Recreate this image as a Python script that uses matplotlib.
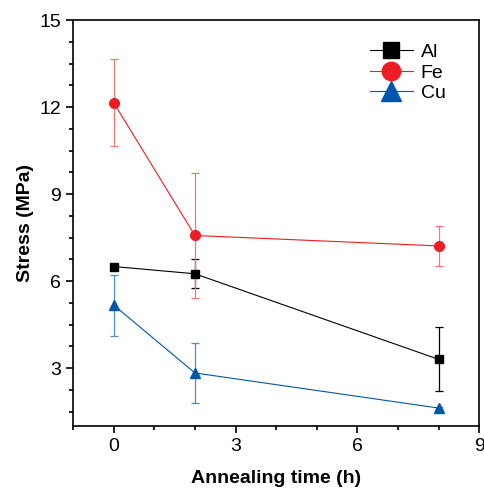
import matplotlib
matplotlib.use("Agg")
import matplotlib.pyplot as plt
from matplotlib.ticker import MultipleLocator

plt.rcParams["font.family"] = ["Liberation Sans", "DejaVu Sans"]

# annealing time (h)
time_h = [0, 2, 8]

# stress (MPa) and error bars for each metal
al_stress = [6.5, 6.25, 3.3]
al_err = [0.0, 0.5, 1.1]
fe_stress = [12.15, 7.57, 7.21]
fe_err = [1.5, 2.15, 0.68]
cu_stress = [5.17, 2.83, 1.62]
cu_err = [1.05, 1.05, 0.05]

series = [
    ("Al", al_stress, al_err, "s", "black", "black", 6),
    ("Fe", fe_stress, fe_err, "o", "#ee1c25", "#f07b72", 7),
    ("Cu", cu_stress, cu_err, "^", "#0056a8", "#4a8fd0", 7.5),
]

fig = plt.figure(figsize=(4.84, 4.88), dpi=100)
ax = fig.add_axes([0.151, 0.127, 0.839, 0.832])

for name, ys, errs, marker, color, ecolor, ms in series:
    ax.errorbar(time_h, ys, yerr=errs, fmt="none", ecolor=ecolor,
                elinewidth=0.9, capsize=3, capthick=0.9, zorder=2)
    ax.plot(time_h, ys, marker=marker, color=color, markersize=ms,
            linewidth=0.8, label=name, zorder=3)

ax.set_xlim(-1, 9)
ax.set_ylim(1, 15)
ax.xaxis.set_major_locator(MultipleLocator(3))
ax.xaxis.set_minor_locator(MultipleLocator(1))
ax.yaxis.set_major_locator(MultipleLocator(3))
ax.yaxis.set_minor_locator(MultipleLocator(0.75))

ax.tick_params(which="both", direction="out", top=False, right=False,
               labelsize=14, width=1.2)
ax.tick_params(which="major", length=5)
ax.tick_params(which="minor", length=3)
for sp in ax.spines.values():
    sp.set_linewidth(1.2)

ax.set_xlabel("Annealing time (h)", fontsize=14, fontweight="bold", labelpad=11)
ax.set_ylabel("Stress (MPa)", fontsize=14, fontweight="bold", labelpad=4)

leg = ax.legend(loc="upper right", frameon=False, fontsize=14,
                markerscale=1.9, handlelength=2.2, labelspacing=0.15,
                handletextpad=0.4, bbox_to_anchor=(0.96, 0.985))

fig.savefig("out.png", dpi=100)
